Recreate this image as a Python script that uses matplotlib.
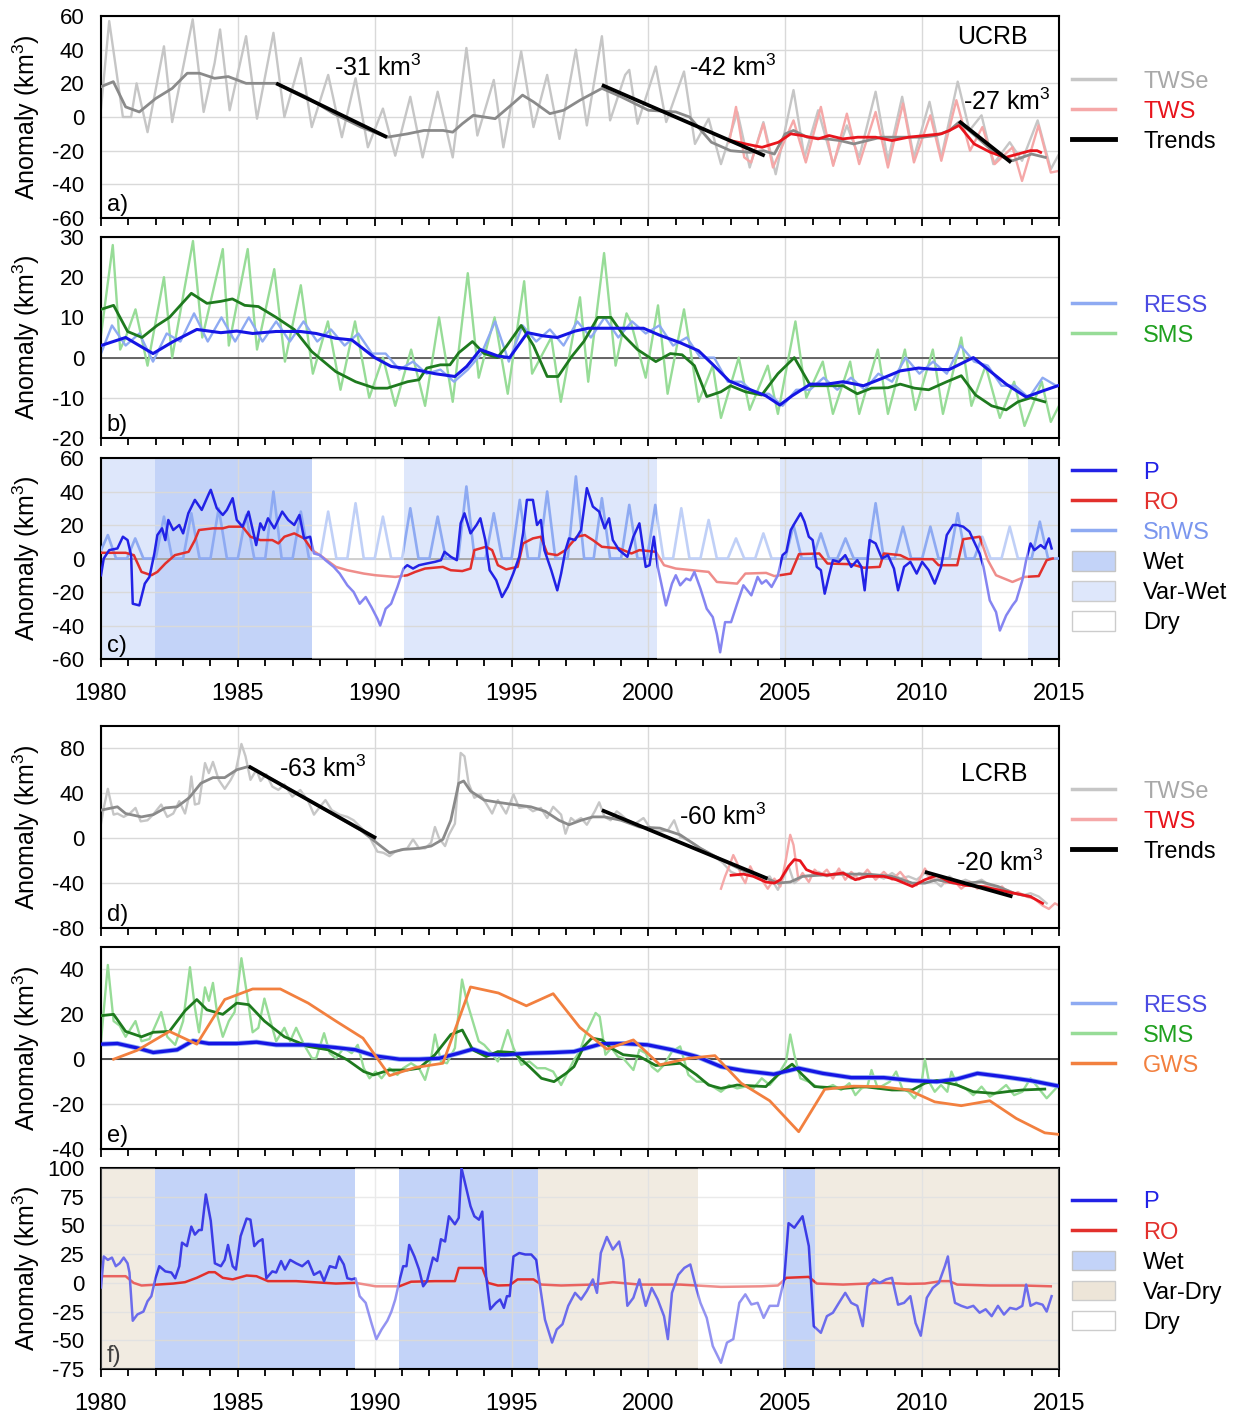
"""
Storage anomalies for the Upper (UCRB) and Lower (LCRB) Colorado River Basin.
Six stacked panels: TWS, component storages and P / RO with wet-dry phases.
"""
import matplotlib
matplotlib.use('Agg')
import matplotlib.pyplot as plt
from matplotlib.lines import Line2D
from matplotlib.patches import Patch

plt.rcParams['font.family'] = ['Liberation Sans', 'DejaVu Sans']
plt.rcParams['font.size'] = 17
plt.rcParams['axes.unicode_minus'] = False
plt.rcParams['mathtext.fontset'] = 'custom'
plt.rcParams['mathtext.rm'] = 'Liberation Sans'
plt.rcParams['mathtext.default'] = 'regular'

KM3 = 'km$^3$'

# ---------------------------------------------------------------- data
# panel a (UCRB total water storage), (decimal year, km3)
a_twse = [(1980.0, 5), (1980.3, 57), (1980.8, 0), (1981.1, 0), (1981.3, 20), (1981.7, -9),
          (1982.3, 42), (1982.6, -3), (1983.35, 58), (1983.75, 3), (1984.15, 32), (1984.35, 52),
          (1984.7, 4), (1985.3, 48), (1985.7, -1), (1986.3, 50), (1986.7, 0), (1987.3, 35),
          (1987.7, -6), (1988.3, 25), (1988.8, -12), (1989.3, 23), (1989.75, -18), (1990.3, 5),
          (1990.75, -23), (1991.3, 12), (1991.75, -24), (1992.3, 15), (1992.85, -24), (1993.35, 41),
          (1993.75, -11), (1994.35, 22), (1994.7, -18), (1995.35, 39), (1995.8, -6), (1996.3, 25),
          (1996.75, -13), (1997.35, 40), (1997.75, -5), (1998.3, 48), (1998.6, -2), (1999.15, 25),
          (1999.3, 28), (1999.6, -4), (2000.27, 30), (2000.65, -3), (2001.3, 27), (2001.7, -16),
          (2002.2, -1), (2002.65, -28), (2003.25, 3), (2003.7, -30), (2004.2, -3), (2004.65, -34),
          (2005.3, 16), (2005.7, -24), (2006.2, 4), (2006.75, -28), (2007.25, -5), (2007.7, -24),
          (2008.3, 15), (2008.75, -26), (2009.27, 12), (2009.7, -24), (2010.27, 9), (2010.7, -24),
          (2011.3, 21), (2011.73, -8), (2012.17, 1), (2012.6, -28), (2013.2, -15), (2013.65, -26),
          (2014.22, -2), (2014.7, -31), (2015.0, -22)]
a_twse_s = [(1980.0, 18), (1980.45, 21), (1980.9, 6), (1981.4, 3), (1982.0, 11), (1982.6, 17),
            (1983.15, 26), (1983.6, 26), (1984.15, 23), (1984.65, 24), (1985.3, 20), (1985.8, 20),
            (1986.4, 20), (1987.5, 12), (1988.5, 2), (1989.5, -6), (1990.45, -12), (1991.2, -10),
            (1991.8, -8), (1992.5, -8), (1992.85, -9), (1993.2, -4), (1993.6, 1), (1994.4, -1),
            (1995.05, 8), (1995.4, 13), (1995.8, 9), (1996.4, 2), (1996.9, 4), (1997.5, 10),
            (1998.3, 17), (1999.0, 12), (2000.0, 4), (2001.0, 3), (2001.5, 0), (2002.3, -15),
            (2003.0, -20), (2003.7, -21), (2004.2, -20), (2004.6, -22), (2005.0, -10), (2005.3, -8),
            (2005.8, -12), (2006.5, -13), (2007.0, -14), (2007.5, -16), (2008.0, -14), (2008.5, -12),
            (2009.0, -12), (2009.5, -12), (2010.0, -12), (2010.5, -11), (2011.0, -8), (2011.35, -3),
            (2012.0, -12), (2012.7, -22), (2013.3, -26), (2014.0, -22), (2014.5, -24)]
a_tws = [(2002.95, -15), (2003.2, 6), (2003.5, -24), (2003.75, -27), (2004.2, -4), (2004.55, -30),
         (2005.3, -2), (2005.75, -27), (2006.3, 6), (2006.75, -29), (2007.25, 2), (2007.7, -28),
         (2008.3, 3), (2008.75, -30), (2009.3, 8), (2009.7, -27), (2010.3, 1), (2010.7, -26),
         (2011.25, 10), (2011.75, -20), (2012.2, -6), (2012.65, -28), (2013.3, -18), (2013.65, -38),
         (2014.25, -5), (2014.7, -33), (2015.0, -32)]
a_tws_s = [(2003.0, -14), (2003.55, -16), (2004.15, -18), (2004.75, -15), (2005.2, -10), (2005.6, -11),
           (2006.2, -13), (2006.6, -11), (2007.1, -13), (2007.65, -12), (2008.3, -12), (2008.9, -14),
           (2009.5, -12), (2010.1, -11), (2010.7, -10), (2011.0, -8), (2011.35, -5), (2011.9, -16),
           (2012.5, -21), (2013.05, -24), (2013.5, -22), (2013.95, -20), (2014.2, -20), (2014.33, -21)]
# trend segments: (start year, start value, end year, end value)
a_trends = [(1986.4, 20, 1990.45, -12), (1998.3, 19, 2004.25, -23), (2011.35, -2.5, 2013.25, -27)]
a_trend_text = ['-31 ' + KM3, '-42 ' + KM3, '-27 ' + KM3]

# panel b (UCRB reservoir and soil moisture storage)
b_sms = [(1980.0, 5.6), (1980.43, 28), (1980.7, 2), (1980.9, 5), (1981.26, 12), (1981.7, -2),
         (1982.3, 20), (1982.6, 0), (1983.36, 29), (1983.7, 5), (1984.45, 27), (1984.67, 3),
         (1985.36, 27), (1985.7, 2), (1986.33, 22), (1986.72, -1), (1987.3, 18), (1987.74, -4),
         (1988.29, 9), (1988.75, -8), (1989.28, 9), (1989.8, -10), (1990.3, 0), (1990.75, -12),
         (1991.33, 2), (1991.84, -12), (1992.35, 10), (1992.85, -11), (1993.4, 21), (1993.8, -5),
         (1994.38, 10), (1994.86, -9), (1995.46, 19), (1995.75, -4), (1996.45, 5), (1996.8, -11),
         (1997.5, 15), (1997.8, -6), (1998.38, 26), (1998.8, -2), (1999.2, 11), (1999.35, 9),
         (1999.9, -5), (2000.35, 13), (2000.7, -9), (2001.3, 12), (2001.83, -11), (2002.35, -2),
         (2002.65, -15), (2003.3, 0), (2003.7, -13), (2004.36, -2), (2004.73, -14), (2005.37, 9),
         (2005.77, -10), (2006.37, -1), (2006.74, -14), (2007.37, -1), (2007.7, -14), (2008.38, 2),
         (2008.75, -14), (2009.37, 2), (2009.75, -13), (2010.39, 2), (2010.76, -14), (2011.43, 5),
         (2011.8, -12), (2012.32, -2), (2012.84, -15), (2013.36, -6), (2013.74, -17), (2014.37, -6),
         (2014.7, -16), (2015.0, -12)]
b_sms_s = [(1980.0, 12), (1980.46, 13), (1980.97, 6.5), (1981.5, 5), (1982.05, 8), (1982.5, 10),
           (1983.3, 16), (1983.87, 13.5), (1984.38, 14), (1984.8, 14.6), (1985.25, 13), (1985.75, 12.7),
           (1986.4, 10), (1987.06, 7), (1987.7, 1.5), (1988.58, -3.5), (1989.3, -6), (1990.0, -7.6),
           (1990.46, -7.6), (1991.2, -6), (1991.62, -5.5), (1991.9, -2.6), (1992.4, -1.8), (1992.75, -1.8),
           (1993.07, 1.2), (1993.57, 4), (1994.0, 1), (1994.48, 0), (1994.8, 2.7), (1995.35, 8),
           (1995.8, 3), (1996.3, -4.7), (1996.7, -4.7), (1997.2, 0.3), (1997.64, 4), (1998.15, 10),
           (1998.63, 10), (1999.08, 5.6), (1999.6, 2), (2000.27, -1), (2000.8, 1), (2001.23, 0.7),
           (2001.68, -2), (2002.13, -9.7), (2002.65, -8.5), (2003.0, -7), (2003.54, -8.5),
           (2004.14, -9.3), (2004.73, -4), (2005.33, 0), (2005.92, -7), (2006.52, -7), (2007.11, -7),
           (2007.63, -9), (2008.15, -7.6), (2008.75, -7.5), (2009.2, -6.6), (2009.72, -7.6),
           (2010.24, -8), (2010.9, -6), (2011.43, -4.5), (2011.95, -9.3), (2012.54, -12),
           (2013.07, -13), (2013.5, -11), (2013.96, -10), (2014.48, -11)]
b_ress = [(1980.0, 1), (1980.4, 8), (1980.9, 3), (1981.4, 6), (1981.9, -1), (1982.4, 6), (1982.9, 4),
          (1983.4, 11), (1983.9, 4), (1984.4, 10), (1984.9, 4), (1985.4, 10), (1985.9, 4), (1986.4, 9),
          (1986.9, 4), (1987.4, 9), (1987.9, 4), (1988.4, 7), (1988.9, 3), (1989.4, 6), (1989.9, 1),
          (1990.4, 1), (1990.9, -3), (1991.4, -1), (1991.9, -4), (1992.4, -3), (1992.9, -6),
          (1993.4, -3), (1993.9, 1), (1994.4, 9), (1994.9, -1), (1995.4, 8), (1995.9, 4), (1996.4, 7),
          (1996.9, 3), (1997.4, 9), (1997.9, 5), (1998.4, 10), (1998.9, 5), (1999.4, 9), (1999.9, 6),
          (2000.4, 8), (2000.9, 3), (2001.4, 5), (2001.9, 0), (2002.4, 0), (2002.9, -6), (2003.4, -6),
          (2003.9, -9), (2004.4, -9), (2004.9, -12), (2005.4, -8), (2005.9, -8), (2006.4, -5),
          (2006.9, -8), (2007.4, -5), (2007.9, -8), (2008.4, -4), (2008.9, -6), (2009.4, 0),
          (2009.9, -4), (2010.4, -1), (2010.9, -4), (2011.4, 3), (2011.9, -1), (2012.4, -2),
          (2012.9, -7), (2013.4, -7), (2013.9, -10), (2014.4, -5), (2014.9, -7)]
b_ress_s = [(1980.0, 3), (1980.9, 5), (1981.9, 1), (1982.64, 4), (1983.5, 7), (1984.38, 6.2),
            (1984.96, 6.6), (1985.54, 6), (1986.4, 6.5), (1987.28, 6.5), (1987.86, 6), (1988.58, 4.8),
            (1989.16, 4.4), (1990.0, 0), (1990.6, -2.2), (1991.48, -3), (1992.2, -4), (1992.93, -4.7),
            (1993.36, -2.2), (1993.86, 2), (1994.5, 0.4), (1994.93, 0), (1995.58, 6.2), (1996.16, 5.4),
            (1996.67, 5), (1997.32, 6.6), (1997.8, 7.3), (1999.82, 7.3), (2000.4, 5.6), (2001.16, 3.7),
            (2001.83, 1.7), (2002.35, -1.7), (2002.95, -5.8), (2003.69, -7.9), (2004.29, -9.5),
            (2004.8, -11.8), (2005.25, -9.5), (2005.92, -6.6), (2006.52, -6.6), (2007.11, -6),
            (2007.86, -7), (2008.6, -5), (2009.2, -3.3), (2009.87, -2.6), (2010.4, -2.9),
            (2010.98, -3), (2011.87, 0), (2012.47, -3.3), (2013.07, -6.6), (2013.8, -9.8),
            (2014.4, -8.3), (2015.0, -6.9)]

# panel c (UCRB precipitation, runoff and snow storage)
c_p = [(1980.0, -10), (1980.1, 0), (1980.3, 5), (1980.6, 6), (1980.8, 13), (1980.97, 11), (1981.1, 2),
       (1981.16, -27), (1981.4, -28), (1981.6, -15), (1981.77, -11), (1981.95, 3), (1982.06, 14),
       (1982.23, 18), (1982.35, 11), (1982.46, 23), (1982.64, 17), (1982.86, 20), (1983.0, 15),
       (1983.19, 27), (1983.43, 35), (1983.68, 29), (1983.95, 39), (1984.01, 41), (1984.23, 30),
       (1984.45, 26), (1984.6, 29), (1984.81, 36), (1984.96, 23), (1985.17, 19), (1985.39, 28),
       (1985.6, 13), (1985.67, 8), (1985.82, 21), (1985.95, 17), (1986.1, 24), (1986.33, 18),
       (1986.62, 28), (1986.84, 23), (1987.06, 20), (1987.25, 26), (1987.42, 12), (1987.64, 13),
       (1987.78, 3), (1988.0, 2), (1988.2, -1), (1988.5, -5), (1988.72, -9), (1989.0, -16),
       (1989.23, -20), (1989.45, -27), (1989.67, -23), (1989.88, -29), (1990.1, -36), (1990.2, -40),
       (1990.4, -30), (1990.6, -27), (1990.83, -17), (1991.05, -6), (1991.19, -4), (1991.4, -6),
       (1991.62, -4), (1991.9, -3), (1992.2, -2), (1992.42, -1), (1992.55, 4), (1992.78, 1),
       (1993.0, -1), (1993.14, 21), (1993.28, 27), (1993.5, 15), (1993.72, 20), (1993.86, 24),
       (1994.04, 11), (1994.2, -7), (1994.44, -13), (1994.65, -23), (1994.86, -17), (1995.06, -9),
       (1995.28, 1), (1995.42, 15), (1995.56, 35), (1995.78, 35), (1995.93, 20), (1996.07, 23),
       (1996.2, 5), (1996.45, -7), (1996.67, -19), (1996.81, -9), (1996.97, 5), (1997.1, 12),
       (1997.32, 11), (1997.54, 17), (1997.75, 42), (1997.97, 31), (1998.2, 28), (1998.4, 18),
       (1998.56, 24), (1998.7, 11), (1998.93, 5), (1999.23, 1), (1999.45, 13), (1999.67, 21),
       (1999.9, -5), (2000.04, -4), (2000.2, 13), (2000.34, -5), (2000.64, -28), (2000.86, -15),
       (2001.0, -10), (2001.16, -16), (2001.38, -12), (2001.53, -13), (2001.68, -8), (2001.9, -18),
       (2002.13, -30), (2002.35, -35), (2002.5, -45), (2002.62, -56), (2002.8, -38), (2003.02, -38),
       (2003.24, -27), (2003.47, -16), (2003.76, -22), (2003.99, -11), (2004.14, -15), (2004.3, -13),
       (2004.5, -17), (2004.73, -10), (2004.9, 2), (2005.04, 4), (2005.2, 17), (2005.34, 21),
       (2005.56, 27), (2005.7, 22), (2005.86, 13), (2006.0, 11), (2006.15, -5), (2006.3, -7),
       (2006.44, -21), (2006.6, -10), (2006.74, -1), (2006.96, -2), (2007.19, 2), (2007.41, -5),
       (2007.63, -1), (2007.78, -5), (2007.9, -19), (2008.08, 11), (2008.3, 9), (2008.53, 0),
       (2008.75, 2), (2008.97, -6), (2009.12, -19), (2009.34, -5), (2009.57, -2), (2009.8, -9),
       (2010.0, -2), (2010.24, -7), (2010.46, -15), (2010.69, -5), (2010.9, 14), (2011.13, 20),
       (2011.28, 20), (2011.5, 19), (2011.73, 16), (2011.87, 11), (2012.1, 3), (2012.24, -5),
       (2012.47, -25), (2012.7, -32), (2012.84, -43), (2013.07, -34), (2013.3, -28), (2013.44, -25),
       (2013.66, -13), (2013.8, -1), (2013.96, 9), (2014.1, 5), (2014.33, 8), (2014.48, 6),
       (2014.63, 12), (2014.73, 6)]
c_ro = [(1980.0, 3.4), (1980.9, 3.4), (1981.2, 2), (1981.48, -8), (1981.84, -10), (1982.06, -8),
        (1982.35, -3), (1982.7, 2), (1983.2, 4), (1983.43, 11), (1983.58, 17), (1984.09, 18),
        (1984.45, 18), (1984.67, 19), (1985.17, 19), (1985.46, 13), (1985.82, 11), (1986.26, 11),
        (1986.48, 9), (1986.7, 13), (1987.06, 15), (1987.42, 12), (1987.71, 5), (1988.0, 2),
        (1988.58, -5), (1989.0, -7), (1989.6, -9), (1990.03, -10), (1990.75, -11), (1991.19, -10),
        (1991.48, -8), (1991.84, -6), (1992.49, -5), (1992.78, -7), (1993.2, -7.5), (1993.5, -6),
        (1993.64, 5), (1994.07, 7), (1994.29, 5), (1994.5, -4), (1994.8, -6.5), (1995.22, -5),
        (1995.42, 9), (1995.78, 12), (1996.07, 13), (1996.3, 3), (1996.67, 2), (1996.97, 5),
        (1997.39, 13), (1997.68, 14), (1997.97, 11), (1998.3, 7), (1998.93, 6), (1999.38, 3),
        (1999.67, 5), (2000.27, 4), (2000.57, -4), (2001.0, -6), (2001.6, -7), (2002.2, -8),
        (2002.5, -14), (2003.24, -15), (2003.54, -9), (2004.3, -8.6), (2004.6, -10.5), (2005.2, -9),
        (2005.5, 2.6), (2006.24, 3), (2006.54, -3), (2007.41, -3.4), (2007.86, -5.5), (2008.45, -5),
        (2008.6, 3), (2009.2, 2), (2009.5, -0.4), (2010.39, -0.4), (2010.6, -4), (2011.28, -4),
        (2011.5, 11.5), (2012.1, 13), (2012.4, -1), (2012.7, -10), (2013.3, -14), (2013.74, -11),
        (2014.26, -10.5), (2014.55, -1), (2014.77, 0)]
c_snws_t = [1980.0, 1980.25, 1980.55, 1980.95, 1981.25, 1981.55, 1982.0, 1982.3, 1982.6, 1983.0,
            1983.3, 1983.6, 1984.0, 1984.3, 1984.6, 1985.0, 1985.3, 1985.6, 1986.0, 1986.3,
            1986.6, 1987.0, 1987.3, 1987.6, 1988.0, 1988.3, 1988.6, 1989.0, 1989.3, 1989.6,
            1990.0, 1990.3, 1990.6, 1991.0, 1991.3, 1991.6, 1992.0, 1992.3, 1992.6, 1993.05,
            1993.35, 1993.65, 1994.05, 1994.35, 1994.65, 1995.0, 1995.3, 1995.6, 1996.0, 1996.3,
            1996.6, 1997.05, 1997.35, 1997.65, 1998.0, 1998.3, 1998.6, 1999.0, 1999.3, 1999.6,
            1999.95, 2000.25, 2000.55, 2000.9, 2001.2, 2001.5, 2001.9, 2002.2, 2002.5, 2002.9,
            2003.2, 2003.5, 2003.9, 2004.2, 2004.5, 2005.0, 2005.3, 2005.6, 2006.0, 2006.3,
            2006.6, 2006.9, 2007.2, 2007.5, 2008.0, 2008.3, 2008.6, 2009.0, 2009.3, 2009.6,
            2010.0, 2010.3, 2010.6, 2011.0, 2011.3, 2011.6, 2011.9, 2012.2, 2012.5, 2012.9,
            2013.2, 2013.5, 2014.0, 2014.3, 2014.6, 2015.0]
c_snws_v = [5, 14, 0, 0, 12, 0, 0, 25, 0, 0,
            27, 0, 0, 30, 0, 0, 26, 0, 0, 40,
            0, 0, 28, 0, 0, 28, 0, 0, 33, 0,
            0, 25, 0, 0, 30, 0, 0, 25, 0, 0,
            43, 0, 0, 27, 0, 0, 35, 0, 0, 40,
            0, 0, 49, 0, 0, 36, 0, 0, 32, 0,
            0, 32, 0, 0, 30, 0, 0, 23, 0, 0,
            12, 0, 0, 15, 0, 0, 20, 0, 0, 15,
            0, 0, 12, 0, 0, 33, 0, 0, 19, 0,
            0, 19, 0, 0, 27, 0, 0, 13, 0, 0,
            19, 0, 0, 22, 0, 0]
c_wet = [(1981.97, 1987.71)]
c_varwet = [(1980.0, 1981.97), (1991.07, 2000.3), (2004.8, 2012.2), (2013.87, 2015.0)]
c_dry = [(1987.71, 1991.07), (2000.3, 2004.8), (2012.2, 2013.87)]

# panel d (LCRB total water storage)
d_twse = [(1980.0, 13), (1980.1, 27), (1980.25, 44), (1980.46, 21), (1980.6, 22), (1980.83, 19),
          (1981.05, 22), (1981.26, 27), (1981.45, 15), (1981.7, 16), (1981.9, 21), (1982.2, 30),
          (1982.42, 19), (1982.64, 22), (1982.86, 33), (1983.07, 22), (1983.22, 38), (1983.3, 55),
          (1983.43, 30), (1983.58, 31), (1983.8, 67), (1983.94, 58), (1984.09, 68), (1984.3, 52),
          (1984.52, 44), (1984.74, 52), (1984.93, 61), (1985.13, 84), (1985.28, 73), (1985.46, 52),
          (1985.68, 61), (1985.83, 51), (1986.04, 57), (1986.26, 46), (1986.48, 43), (1986.7, 48),
          (1986.99, 37), (1987.28, 43), (1987.57, 33), (1987.78, 21), (1988.0, 28), (1988.2, 34),
          (1988.43, 25), (1988.72, 21), (1989.0, 19), (1989.23, 16), (1989.52, 9), (1989.81, 1),
          (1990.1, -12), (1990.32, -13), (1990.54, -16), (1990.75, -12), (1990.97, -10),
          (1991.19, -9), (1991.4, -1), (1991.62, -9), (1991.84, -9), (1992.06, -4), (1992.2, 10),
          (1992.35, 0), (1992.57, -7), (1992.71, 3), (1992.93, 13), (1993.14, 76), (1993.28, 73),
          (1993.43, 49), (1993.64, 36), (1993.86, 39), (1994.07, 31), (1994.29, 22), (1994.5, 34),
          (1994.8, 22), (1995.07, 39), (1995.28, 27), (1995.56, 28), (1995.78, 24), (1996.07, 27),
          (1996.3, 18), (1996.52, 28), (1996.81, 21), (1996.97, 4), (1997.17, 18), (1997.32, 15),
          (1997.54, 18), (1997.75, 12), (1998.04, 24), (1998.2, 32), (1998.4, 19), (1998.62, 16),
          (1998.84, 24), (1999.0, 21), (1999.23, 16), (1999.52, 13), (1999.82, 18), (2000.12, 7),
          (2000.42, 6), (2000.71, 7), (2000.94, 16), (2001.16, 1), (2001.38, -1), (2001.6, -4),
          (2001.9, -9), (2002.2, -13), (2002.5, -18), (2002.72, -22), (2003.02, -30),
          (2003.32, -33), (2003.6, -30), (2003.9, -34), (2004.14, -37), (2004.43, -34),
          (2004.73, -46), (2004.97, -33), (2005.12, -25), (2005.33, -40), (2005.63, -34),
          (2005.92, -33), (2006.22, -30), (2006.52, -34), (2006.81, -31), (2007.11, -30),
          (2007.41, -36), (2007.7, -31), (2008.0, -34), (2008.3, -33), (2008.6, -36), (2008.9, -31),
          (2009.2, -36), (2009.5, -34), (2009.8, -37), (2010.1, -31), (2010.39, -37), (2010.69, -43),
          (2011.0, -34), (2011.28, -40), (2011.58, -37), (2011.87, -40), (2012.17, -37),
          (2012.47, -42), (2012.77, -45), (2013.07, -46), (2013.36, -49), (2013.66, -51),
          (2013.96, -49), (2014.26, -52), (2014.55, -58)]
d_twse_s = [(1980.0, 25), (1980.6, 28), (1980.9, 22), (1981.48, 19), (1981.91, 21), (1982.35, 27),
            (1982.78, 28), (1983.22, 36), (1983.65, 49), (1984.09, 54), (1984.52, 54), (1984.96, 61),
            (1985.4, 64), (1986.5, 49), (1987.5, 35), (1988.5, 21), (1989.5, 7), (1990.17, -6),
            (1990.54, -13), (1991.04, -10), (1991.62, -9), (1992.06, -7), (1992.49, -1),
            (1992.78, 16), (1993.07, 49), (1993.25, 51), (1993.5, 42), (1994.0, 34), (1994.5, 32),
            (1995.07, 30), (1995.7, 28), (1996.23, 24), (1996.73, 16), (1997.1, 12), (1997.54, 16),
            (1997.97, 19), (1998.4, 19), (1999.0, 16), (1999.67, 10), (2000.42, 9), (2001.16, 3),
            (2001.9, -9), (2002.65, -19), (2003.39, -28), (2004.14, -34), (2004.73, -40),
            (2005.18, -39), (2005.63, -34), (2006.22, -33), (2007.11, -32), (2008.0, -32),
            (2008.9, -34), (2009.64, -40), (2010.1, -40), (2010.54, -37), (2011.13, -40),
            (2011.58, -40), (2012.17, -39), (2012.77, -43), (2013.36, -49), (2013.96, -52)]
d_tws = [(2002.65, -45), (2002.8, -34), (2002.95, -25), (2003.1, -15), (2003.24, -22), (2003.4, -34),
         (2003.54, -40), (2003.72, -25), (2003.9, -34), (2004.14, -37), (2004.36, -45), (2004.6, -36),
         (2004.82, -43), (2005.0, -22), (2005.18, 3), (2005.3, -6), (2005.48, -37), (2005.63, -31),
         (2005.86, -39), (2006.07, -28), (2006.3, -33), (2006.52, -28), (2006.74, -36), (2006.96, -27),
         (2007.19, -37), (2007.41, -30), (2007.7, -37), (2008.0, -28), (2008.3, -37), (2008.6, -30),
         (2008.9, -37), (2009.2, -30), (2009.5, -39), (2009.8, -42), (2010.1, -27), (2010.33, -37),
         (2010.54, -34), (2010.85, -40), (2011.13, -37), (2011.43, -45), (2011.72, -39),
         (2012.02, -45), (2012.32, -42), (2012.62, -46), (2012.92, -43), (2013.2, -51), (2013.5, -48),
         (2013.8, -52), (2014.1, -54), (2014.4, -60), (2014.63, -63), (2014.85, -58), (2015.0, -60)]
d_tws_s = [(2003.02, -33), (2003.47, -32), (2003.83, -34), (2004.29, -39), (2004.6, -40),
           (2004.82, -37), (2005.12, -25), (2005.33, -19), (2005.54, -20), (2005.77, -28),
           (2006.07, -31), (2006.52, -33), (2007.11, -31), (2007.56, -37), (2008.0, -34), (2008.6, -34),
           (2009.05, -37), (2009.64, -43), (2010.1, -37), (2010.54, -33), (2011.0, -39), (2011.58, -42),
           (2012.17, -43), (2012.77, -46), (2013.36, -49), (2013.96, -52), (2014.4, -58)]
d_trends = [(1985.4, 64, 1990.05, 0), (1998.3, 25, 2004.35, -36), (2010.1, -30, 2013.3, -52)]
d_trend_text = ['-63 ' + KM3, '-60 ' + KM3, '-20 ' + KM3]

# panel e (LCRB reservoir, soil moisture and groundwater storage)
e_gws = [(1980.46, 0), (1981.33, 4), (1982.5, 12.4), (1983.5, 6.7), (1984.52, 26.6), (1985.54, 31.3),
         (1986.55, 31.3), (1987.57, 25), (1988.58, 17), (1989.57, 9.4), (1990.54, -7.3),
         (1991.48, -3.7), (1992.49, -1.8), (1993.5, 32.2), (1994.52, 29.5), (1995.54, 23.8),
         (1996.52, 29.2), (1997.49, 14.2), (1998.48, 4.5), (1999.45, 8.6), (2000.42, -2.5),
         (2001.46, 0.4), (2002.43, 1.6), (2003.39, -10.7), (2004.43, -18.5), (2005.49, -32.3),
         (2006.44, -13.4), (2007.49, -12), (2008.45, -12.2), (2009.5, -13.7), (2010.46, -19),
         (2011.43, -20.7), (2012.47, -18.5), (2013.44, -26.4), (2014.48, -32.8), (2015.0, -33.5)]
e_ress = [(1980.0, 6.7), (1980.6, 7), (1981.33, 5), (1981.91, 3), (1982.78, 4.2), (1983.36, 8.2),
          (1983.94, 7), (1984.96, 7), (1985.68, 7.6), (1986.4, 6.4), (1987.57, 6.4), (1988.58, 5.2),
          (1989.3, 4.2), (1990.0, 1.5), (1990.9, 0), (1991.62, 0), (1992.35, 0.4), (1993.07, 2.7),
          (1993.58, 4.5), (1994.15, 2.2), (1994.74, 2), (1995.68, 2.7), (1996.55, 3), (1997.28, 3.4),
          (1998.3, 6.9), (1999.08, 7), (1999.97, 6.4), (2000.86, 4.2), (2001.76, 1.2), (2002.65, -3.3),
          (2003.54, -5.2), (2004.58, -6.7), (2005.48, -4), (2006.37, -6.3), (2007.41, -8.2),
          (2008.6, -8.2), (2009.64, -9.5), (2010.54, -10), (2011.28, -8.8), (2012.02, -6.3),
          (2012.92, -7.7), (2013.96, -9.5), (2015.0, -12)]
e_sms = [(1980.0, 8), (1980.25, 42), (1980.46, 17), (1980.68, 15), (1980.9, 10), (1981.26, 17),
         (1981.48, 8), (1981.77, 9), (1982.2, 21), (1982.42, 10), (1982.71, 6.4), (1983.0, 17),
         (1983.25, 41), (1983.43, 23), (1983.58, 12), (1983.8, 32), (1983.94, 26), (1984.09, 34),
         (1984.26, 19), (1984.45, 10), (1984.67, 17), (1984.88, 21), (1985.13, 45), (1985.32, 30),
         (1985.54, 12), (1985.75, 14), (1985.97, 27), (1986.19, 17), (1986.4, 8), (1986.7, 14),
         (1986.91, 8), (1987.13, 14), (1987.42, 6.4), (1987.71, 0.4), (1987.86, 0.4), (1988.15, 11.6),
         (1988.36, 2.7), (1988.58, 0.4), (1988.87, 5), (1989.16, 2.7), (1989.38, 6.4), (1989.6, -4),
         (1989.81, -8.5), (1990.03, -5.5), (1990.25, -8.5), (1990.54, -4), (1990.83, -7),
         (1991.04, -4), (1991.33, -1.8), (1991.62, -4), (1991.84, -9.2), (1992.06, 0.4), (1992.2, 11),
         (1992.42, -1), (1992.64, -1.8), (1992.93, 5), (1993.19, 35.5), (1993.36, 26), (1993.58, 17),
         (1993.8, 8), (1994.0, 6.4), (1994.22, 3.4), (1994.5, -1), (1994.86, 13), (1995.07, 5),
         (1995.36, -2.5), (1995.65, -1), (1995.94, -4), (1996.23, -4), (1996.52, -5.5),
         (1996.81, -11.5), (1997.03, -6.3), (1997.28, -0.3), (1997.49, 3.4), (1997.7, 11),
         (1997.93, 17), (1998.07, 20.6), (1998.22, 19), (1998.43, 2), (1998.65, 5), (1998.88, 1.2),
         (1999.08, 0.4), (1999.45, -4.8), (1999.67, 4.2), (1999.9, 2.7), (2000.12, -3.3),
         (2000.34, -5.5), (2000.57, -2.5), (2000.86, 3.4), (2001.16, 5.7), (2001.46, -7),
         (2001.76, -10), (2002.05, -10), (2002.35, -12.2), (2002.65, -14.5), (2002.95, -11.5),
         (2003.24, -13), (2003.54, -12.2), (2003.83, -13), (2004.14, -8.5), (2004.43, -11.5),
         (2004.73, -7), (2005.03, -1), (2005.18, 11), (2005.33, 2), (2005.55, -8.5), (2005.85, -10),
         (2006.15, -12.2), (2006.44, -13), (2006.74, -11.5), (2007.04, -13.7), (2007.34, -10.7),
         (2007.56, -16), (2007.78, -13), (2008.0, -12.2), (2008.15, -4.8), (2008.38, -13),
         (2008.6, -11.5), (2008.82, -10), (2009.05, -5.5), (2009.27, -13), (2009.5, -14.5),
         (2009.72, -17.4), (2009.95, -13), (2010.1, 0), (2010.25, -10), (2010.46, -14.5),
         (2010.69, -11.5), (2010.92, -14.5), (2011.07, -5.5), (2011.28, -11.5), (2011.58, -13),
         (2011.87, -16), (2012.17, -12.2), (2012.47, -16.7), (2012.77, -14.5), (2013.07, -11.5),
         (2013.36, -16), (2013.66, -14.5), (2013.96, -8.5), (2014.26, -13), (2014.55, -17.4),
         (2014.77, -14.5), (2015.0, -11.5)]
e_sms_s = [(1980.0, 19.4), (1980.46, 20), (1980.9, 12.4), (1981.48, 10), (1981.91, 12), (1982.5, 12.4),
           (1983.07, 21.6), (1983.5, 26.6), (1983.87, 22), (1984.45, 20), (1984.96, 25), (1985.4, 24.3),
           (1985.97, 17), (1986.7, 10), (1987.57, 5.7), (1988.29, 4.2), (1989.0, -0.3), (1989.6, -5.5),
           (1989.96, -7), (1990.54, -4.8), (1991.19, -4.8), (1991.62, -4), (1992.2, 2), (1992.78, 11),
           (1993.2, 13), (1993.58, 4.2), (1994.07, 1.2), (1994.5, 3.4), (1995.07, 3), (1995.65, -3.3),
           (1996.09, -8.5), (1996.55, -10), (1996.99, -6.3), (1997.28, -3.3), (1997.64, 5.7),
           (1997.93, 9.4), (1998.3, 8.6), (1998.63, 5), (1999.08, 2), (1999.67, 1.2), (2000.27, -2.8),
           (2001.16, -1.8), (2001.76, -7), (2002.2, -11.5), (2002.65, -13), (2003.24, -11.5),
           (2004.29, -12.2), (2004.73, -7), (2005.25, -2.2), (2005.63, -7), (2006.07, -12.2),
           (2007.11, -13), (2007.86, -12.2), (2008.9, -13.7), (2009.64, -13.7), (2010.1, -10.7),
           (2010.54, -9.5), (2011.28, -11.5), (2011.87, -14.5), (2012.62, -15.2), (2013.07, -14.5),
           (2013.66, -13.7), (2014.48, -13.3)]

# panel f (LCRB precipitation and runoff)
f_p = [(1980.0, -4), (1980.1, 23), (1980.25, 20), (1980.4, 22), (1980.54, 14.5), (1980.68, 17),
       (1980.83, 22), (1980.97, 17), (1981.04, 9), (1981.16, -33), (1981.33, -27.5), (1981.55, -25),
       (1981.7, -16), (1981.84, -11.6), (1981.99, 4), (1982.13, 14.5), (1982.35, 10), (1982.57, 9),
       (1982.71, 4), (1982.86, 14.5), (1982.96, 35), (1983.14, 32), (1983.3, 49), (1983.43, 42),
       (1983.58, 46), (1983.68, 46), (1983.83, 77), (1984.01, 54), (1984.16, 17), (1984.38, 14.5),
       (1984.52, 20), (1984.64, 33), (1984.81, 14.5), (1984.93, 11.6), (1985.1, 40.6), (1985.32, 56),
       (1985.46, 55), (1985.6, 32), (1985.75, 36), (1985.9, 38), (1986.04, 4), (1986.26, 10),
       (1986.4, 9), (1986.58, 19), (1986.72, 11.6), (1986.91, 20), (1987.13, 17), (1987.35, 14.5),
       (1987.57, 19), (1987.78, 7), (1988.0, 10), (1988.15, 1.5), (1988.36, 14.5), (1988.58, 13),
       (1988.7, 23), (1988.87, 16), (1989.0, 4), (1989.16, 3), (1989.3, 4), (1989.45, -11.6),
       (1989.67, -17.4), (1989.88, -35), (1990.06, -49), (1990.25, -40.6), (1990.46, -33),
       (1990.61, -25), (1990.75, -14.5), (1990.9, 1.5), (1991.04, 14.5), (1991.16, 14.5),
       (1991.26, 33), (1991.45, 23), (1991.62, 11.6), (1991.77, -3), (1991.91, 1.5), (1992.13, 22),
       (1992.28, 19), (1992.42, 38), (1992.57, 36), (1992.71, 58), (1992.93, 51), (1993.07, 56.6),
       (1993.17, 100), (1993.33, 84), (1993.5, 66.7), (1993.64, 58), (1993.81, 55), (1993.93, 62),
       (1994.07, 5.8), (1994.22, -23), (1994.43, -17.4), (1994.58, -14.5), (1994.72, -21.8),
       (1994.83, -11.6), (1994.93, -11.6), (1995.07, 23), (1995.28, 26), (1995.5, 24.7),
       (1995.72, 24.7), (1995.9, 20), (1996.04, -3), (1996.22, -32), (1996.48, -52),
       (1996.65, -40.6), (1996.86, -36), (1997.07, -20), (1997.32, -8.7), (1997.54, -14.5),
       (1997.75, -7), (1997.97, 3), (1998.12, -8.7), (1998.26, 26), (1998.48, 40), (1998.7, 29),
       (1998.93, 36), (1999.08, 20), (1999.23, -20), (1999.45, -13), (1999.67, 3), (1999.9, -20),
       (2000.12, -4.4), (2000.34, -14.5), (2000.57, -29), (2000.71, -49), (2000.86, -8.7),
       (2001.09, 7), (2001.31, 13), (2001.53, 16), (2001.76, -5.8), (2001.9, -17.4),
       (2002.13, -30.5), (2002.35, -55), (2002.65, -69.6), (2002.87, -52), (2003.1, -49),
       (2003.32, -17.4), (2003.54, -10), (2003.76, -18.8), (2003.99, -17.4), (2004.21, -30.5),
       (2004.43, -20), (2004.73, -20), (2004.96, 3), (2005.12, 52), (2005.33, 48), (2005.63, 58),
       (2005.86, 32), (2006.04, -37.7), (2006.3, -43.5), (2006.52, -29), (2006.74, -26),
       (2006.96, -17.4), (2007.19, -8.7), (2007.41, -17.4), (2007.63, -20), (2007.83, -37.7),
       (2008.0, -3), (2008.23, 3), (2008.45, 0), (2008.68, 3), (2008.9, 4.4), (2009.12, -19),
       (2009.34, -17.4), (2009.57, -11.6), (2009.76, -35), (2009.95, -46), (2010.17, -13),
       (2010.39, -4.4), (2010.61, 0), (2010.83, 14.5), (2010.94, 23), (2011.06, 0),
       (2011.2, -17.4), (2011.43, -20), (2011.65, -21.8), (2011.87, -20), (2012.1, -26),
       (2012.32, -23), (2012.54, -29), (2012.77, -20), (2012.99, -27.6), (2013.21, -21.8),
       (2013.44, -23), (2013.66, -20), (2013.8, -1.5), (2013.96, -20), (2014.17, -17.4),
       (2014.4, -19), (2014.55, -25), (2014.73, -11.6)]
f_ro = [(1980.0, 5.8), (1980.9, 5.8), (1981.19, 0), (1981.48, -2.3), (1982.06, -1.5), (1982.64, -0.6),
        (1983.07, 0.6), (1983.5, 4.4), (1983.94, 9.3), (1984.16, 9.3), (1984.45, 4.4), (1984.81, 3),
        (1985.32, 6.4), (1985.68, 5.8), (1986.1, 1.5), (1987.13, 1.5), (1988.58, -0.6), (1989.3, 0),
        (1990.03, -3), (1990.9, -3), (1991.33, 1), (1992.2, 1.5), (1992.93, 1.5), (1993.07, 13),
        (1993.93, 13), (1994.14, 0), (1994.5, -2.3), (1994.93, -2), (1995.22, 3), (1995.8, 3),
        (1996.09, -1.5), (1996.81, -2.3), (1997.97, -1.5), (1998.7, 0.6), (1999.67, -1.5),
        (2001.16, -1.5), (2002.65, -3.5), (2004.14, -3), (2004.73, -2.3), (2005.04, 4.4),
        (2005.86, 5.2), (2006.15, -0.6), (2007.11, -1.5), (2008.6, 0), (2009.5, -0.9),
        (2010.1, -0.6), (2010.69, 1.5), (2011.0, 1.5), (2011.28, -1.5), (2012.47, -2.3),
        (2013.66, -2.3), (2014.7, -3)]
f_wet = [(1981.97, 1989.28), (1990.9, 1995.97), (2004.92, 2006.09)]
f_vardry = [(1980.0, 1981.97), (1995.97, 2001.8), (2006.09, 2015.0)]
f_dry = [(1989.28, 1990.9), (2001.8, 2004.92)]

# ---------------------------------------------------------------- colours
grey_l, grey_d = '#c6c6c6', '#8a8a8a'
red_l, red_d = '#f5a8a8', '#e8141c'
blue_l, blue_d = '#8eaaf2', '#1515e4'
green_l, green_d = '#97dc97', '#1e7a1e'
orange = '#f2803f'
p_col, ro_col = '#2222e6', '#e2302c'
wet_c, varwet_c, vardry_c = '#c3d3f8', '#dee7fb', '#ede5d8'

fig = plt.figure(figsize=(12.38, 14.18), dpi=100)


def panel(top, bottom):
    # axes box from pixel rows of the 1238 x 1418 figure
    return fig.add_axes([101 / 1238, 1 - bottom / 1418, 958 / 1238, (bottom - top) / 1418])


def style(ax, ylim, yticks, tag, xlabels=False):
    ax.set_xlim(1980, 2015)
    ax.set_ylim(*ylim)
    ax.set_yticks(yticks)
    ax.set_xticks(range(1980, 2016, 5))
    ax.set_xticks(range(1980, 2016), minor=True)
    ax.tick_params(axis='x', which='major', direction='out', length=6, width=1.3, pad=11,
                   labelbottom=xlabels, labelsize=17)
    ax.tick_params(axis='x', which='minor', direction='out', length=5, width=1.3)
    ax.tick_params(axis='y', length=0, pad=12, labelsize=16)
    ax.grid(True, which='major', color='#d9d9d9', lw=1)
    ax.set_axisbelow(True)
    for s in ax.spines.values():
        s.set_linewidth(1.5)
    ax.set_ylabel('Anomaly (' + KM3 + ')', fontsize=18)
    ax.yaxis.set_label_coords(-0.062, 0.5)
    ax.text(0.006, 0.01, tag, transform=ax.transAxes, va='bottom', ha='left')


def line(ax, pts, **kw):
    t, v = zip(*pts)
    ax.plot(t, v, solid_joinstyle='round', **kw)


def legend(ax, handles, labels, colors, yc):
    ax.legend(handles, labels, labelcolor=colors, loc='center left', bbox_to_anchor=(1.014, yc),
              frameon=False, borderpad=0, borderaxespad=0, handlelength=1.8, handleheight=0.9,
              handletextpad=1.2, labelspacing=0.3, fontsize=17)


def trends(ax, segs, texts, pos):
    for (x0, y0, x1, y1) in segs:
        ax.plot([x0, x1], [y0, y1], color='black', lw=2.7, zorder=5, solid_capstyle='butt')
    for txt, (x, y) in zip(texts, pos):
        ax.text(x, y, txt, ha='left', va='center', fontsize=18, zorder=6)


# ---------------------------------------------------------------- a)
ax = panel(16, 218)
line(ax, a_twse, color=grey_l, lw=1.7, zorder=2)
line(ax, a_tws, color=red_l, lw=1.7, zorder=2.1)
line(ax, a_twse_s, color=grey_d, lw=2, zorder=3)
line(ax, a_tws_s, color=red_d, lw=2, zorder=3.1)
trends(ax, a_trends, a_trend_text, [(1988.5, 29), (2001.5, 29), (2011.5, 9)])
ax.text(2013.85, 47.5, 'UCRB', ha='right', va='center', fontsize=18)
style(ax, (-60, 60), range(-60, 61, 20), 'a)')
legend(ax, [Line2D([], [], color=grey_l, lw=2.5), Line2D([], [], color=red_l, lw=2.5),
            Line2D([], [], color='black', lw=3.5)],
       ['TWSe', 'TWS', 'Trends'], ['#a8a8a8', red_d, 'black'], 0.525)

# ---------------------------------------------------------------- b)
ax = panel(237, 438)
ax.axhline(0, color='#5a5a5a', lw=1.3, zorder=1)
line(ax, b_sms, color=green_l, lw=1.7, zorder=2)
line(ax, b_ress, color=blue_l, lw=1.7, zorder=2.1)
line(ax, b_sms_s, color=green_d, lw=2, zorder=3)
line(ax, b_ress_s, color=blue_d, lw=2.2, zorder=3.1)
style(ax, (-20, 30), range(-20, 31, 10), 'b)')
legend(ax, [Line2D([], [], color=blue_l, lw=2.5), Line2D([], [], color=green_l, lw=2.5)],
       ['RESS', 'SMS'], ['#4a4ae2', '#1fa01f'], 0.585)

# ---------------------------------------------------------------- c)
ax = panel(458, 659)
for a0, a1 in c_wet:
    ax.axvspan(a0, a1, color=wet_c, lw=0, zorder=0.2)
for a0, a1 in c_varwet:
    ax.axvspan(a0, a1, color=varwet_c, lw=0, zorder=0.2)
ax.axhline(0, color='#a0a0a0', lw=1.2, zorder=1)
ax.plot(c_snws_t, c_snws_v, color=blue_l, lw=1.9, zorder=3, solid_joinstyle='round')
line(ax, c_ro, color=ro_col, lw=1.8, zorder=3.1)
line(ax, c_p, color=p_col, lw=1.8, zorder=3.2)
for a0, a1 in c_dry:
    ax.axvspan(a0, a1, color='white', alpha=0.45, lw=0, zorder=4)
style(ax, (-60, 60), range(-60, 61, 20), 'c)', xlabels=True)
legend(ax, [Line2D([], [], color=p_col, lw=2.5), Line2D([], [], color=ro_col, lw=2.5),
            Line2D([], [], color=blue_l, lw=2.5),
            Patch(facecolor=wet_c, edgecolor='#c4c4c4'), Patch(facecolor=varwet_c, edgecolor='#cccccc'),
            Patch(facecolor='white', edgecolor='#cccccc')],
       ['P', 'RO', 'SnWS', 'Wet', 'Var-Wet', 'Dry'],
       [p_col, ro_col, '#7a96ee', 'black', 'black', 'black'], 0.555)

# ---------------------------------------------------------------- d)
ax = panel(726, 928)
line(ax, d_twse, color=grey_l, lw=1.7, zorder=2)
line(ax, d_tws, color=red_l, lw=1.7, zorder=2.1)
line(ax, d_twse_s, color=grey_d, lw=2, zorder=3)
line(ax, d_tws_s, color=red_d, lw=2, zorder=3.1)
trends(ax, d_trends, d_trend_text, [(1986.5, 62), (2001.1, 19), (2011.25, -22)])
ax.text(2013.85, 57, 'LCRB', ha='right', va='center', fontsize=18)
style(ax, (-80, 100), range(-80, 81, 40), 'd)')
legend(ax, [Line2D([], [], color=grey_l, lw=2.5), Line2D([], [], color=red_l, lw=2.5),
            Line2D([], [], color='black', lw=3.5)],
       ['TWSe', 'TWS', 'Trends'], ['#a8a8a8', red_d, 'black'], 0.525)

# ---------------------------------------------------------------- e)
ax = panel(947, 1149)
ax.axhline(0, color='#404040', lw=1.3, zorder=1)
line(ax, e_sms, color=green_l, lw=1.7, zorder=2)
line(ax, e_ress, color=blue_l, lw=3.6, zorder=2.1)
line(ax, e_sms_s, color=green_d, lw=2, zorder=3)
line(ax, e_ress, color=blue_d, lw=2.4, zorder=3.1)
line(ax, e_gws, color=orange, lw=2, zorder=3.2)
style(ax, (-40, 50), range(-40, 41, 20), 'e)')
legend(ax, [Line2D([], [], color=blue_l, lw=2.5), Line2D([], [], color=green_l, lw=2.5),
            Line2D([], [], color=orange, lw=2.5)],
       ['RESS', 'SMS', 'GWS'], ['#4a4ae2', '#1fa01f', orange], 0.562)

# ---------------------------------------------------------------- f)
ax = panel(1168, 1369)
for a0, a1 in f_wet:
    ax.axvspan(a0, a1, color=wet_c, lw=0, zorder=0.2)
for a0, a1 in f_vardry:
    ax.axvspan(a0, a1, color=vardry_c, lw=0, zorder=0.2)
line(ax, f_ro, color=ro_col, lw=1.8, zorder=3.1)
line(ax, f_p, color='#3c3ce6', lw=1.8, zorder=3.2)
for a0, a1 in f_dry:
    ax.axvspan(a0, a1, color='white', alpha=0.45, lw=0, zorder=4)
for a0, a1 in f_vardry:
    ax.axvspan(a0, a1, color='white', alpha=0.25, lw=0, zorder=4)
style(ax, (-75, 100), range(-75, 101, 25), 'f)', xlabels=True)
legend(ax, [Line2D([], [], color=p_col, lw=2.5), Line2D([], [], color=ro_col, lw=2.5),
            Patch(facecolor=wet_c, edgecolor='#c4c4c4'), Patch(facecolor=vardry_c, edgecolor='#cccccc'),
            Patch(facecolor='white', edgecolor='#cccccc')],
       ['P', 'RO', 'Wet', 'Var-Dry', 'Dry'],
       [p_col, ro_col, 'black', 'black', 'black'], 0.532)

fig.savefig('out.png', dpi=100)
